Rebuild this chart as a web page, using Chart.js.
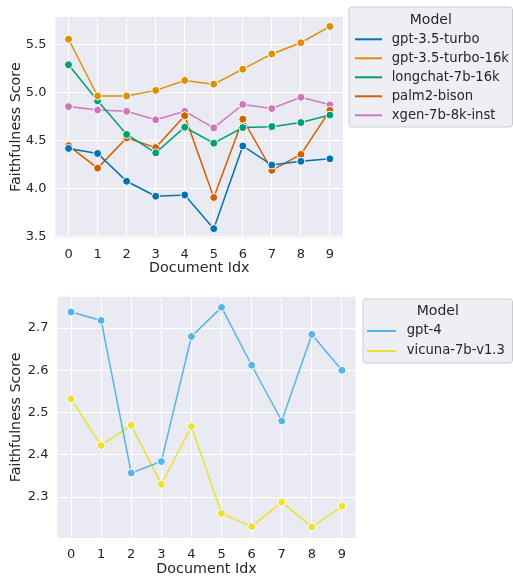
<!DOCTYPE html>
<html><head><meta charset="utf-8">
<script src="https://cdn.jsdelivr.net/npm/chart.js@4"></script>
<style>
html,body{margin:0;padding:0;background:#fff;}
#wrap{position:relative;width:513px;height:581px;overflow:hidden;}
canvas{position:absolute;left:0;}
</style></head><body>
<div id="wrap">
<canvas id="c1" width="513" height="280" style="top:0;width:513px;height:280px"></canvas>
<canvas id="c2" width="513" height="301" style="top:280px;width:513px;height:301px"></canvas>
</div>
<script>
// ---- data ----
const docIdx = [0,1,2,3,4,5,6,7,8,9];
const xTicks = [0,1,2,3,4,5,6,7,8,9];
const topYTicks = [3.5,4.0,4.5,5.0,5.5];
const bottomYTicks = [2.3,2.4,2.5,2.6,2.7];

const topModels = ['gpt-3.5-turbo','gpt-3.5-turbo-16k','longchat-7b-16k','palm2-bison','xgen-7b-8k-inst'];
const gpt35turbo   = [4.418,4.366,4.076,3.920,3.933,3.582,4.444,4.245,4.284,4.310];
const gpt35turbo16k= [5.556,4.964,4.964,5.023,5.127,5.088,5.244,5.403,5.520,5.690];
const longchat7b16k= [5.290,4.915,4.564,4.372,4.639,4.473,4.636,4.645,4.688,4.766];
const palm2bison   = [4.447,4.213,4.528,4.427,4.759,3.907,4.723,4.190,4.356,4.815];
const xgen7b8kinst = [4.854,4.818,4.805,4.717,4.805,4.632,4.876,4.834,4.951,4.873];

const bottomModels = ['gpt-4','vicuna-7b-v1.3'];
const gpt4        = [2.738,2.718,2.357,2.384,2.680,2.749,2.612,2.480,2.685,2.600];
const vicuna7bv13 = [2.532,2.422,2.470,2.330,2.467,2.261,2.230,2.288,2.229,2.278];

// ---- styles ----
const topColors = ['#0173b2','#de8f05','#029e73','#d55e00','#cc78bc'];
const bottomColors = ['#56b4e9','#ece133'];
const FONT = '"DejaVu Sans", "Liberation Sans", sans-serif';
const TXT = '#262626';

function mkDataset(label, values, color){
  return {
    label, data: docIdx.map((x,i)=>({x, y: values[i]})),
    borderColor: color, backgroundColor: color,
    pointBackgroundColor: color, pointBorderColor: '#ffffff',
    pointBorderWidth: 1, pointRadius: 4, pointHoverRadius: 4,
    borderWidth: 1.5, tension: 0, fill: false
  };
}

const bgPlugin = {
  id: 'bgPlugin',
  beforeDraw(chart){
    const {ctx, chartArea:a} = chart;
    ctx.save(); ctx.fillStyle = '#eaeaf2';
    ctx.fillRect(a.left, a.top, a.right-a.left, a.bottom-a.top);
    ctx.restore();
  }
};

const legendBox = {
  id: 'legendBox',
  afterDraw(chart, args, o){
    const ctx = chart.ctx; ctx.save();
    const r = 3;
    ctx.beginPath();
    ctx.moveTo(o.x+r, o.y); ctx.lineTo(o.x+o.w-r, o.y); ctx.arcTo(o.x+o.w, o.y, o.x+o.w, o.y+r, r);
    ctx.lineTo(o.x+o.w, o.y+o.h-r); ctx.arcTo(o.x+o.w, o.y+o.h, o.x+o.w-r, o.y+o.h, r);
    ctx.lineTo(o.x+r, o.y+o.h); ctx.arcTo(o.x, o.y+o.h, o.x, o.y+o.h-r, r);
    ctx.lineTo(o.x, o.y+r); ctx.arcTo(o.x, o.y, o.x+r, o.y, r); ctx.closePath();
    ctx.fillStyle = 'rgba(234,234,242,0.8)'; ctx.fill();
    ctx.strokeStyle = '#cccccc'; ctx.lineWidth = 1; ctx.stroke();
    ctx.fillStyle = TXT; ctx.textBaseline = 'middle';
    ctx.font = '14px ' + FONT; ctx.textAlign = 'center';
    ctx.fillText(o.title, o.x + o.w/2, o.titleY);
    ctx.font = '13.2px ' + FONT; ctx.textAlign = 'left';
    chart.data.datasets.forEach((ds,i)=>{
      const yy = o.rowY + i*o.rowGap;
      ctx.strokeStyle = ds.borderColor; ctx.lineWidth = 2;
      ctx.beginPath(); ctx.moveTo(o.lineX0, yy); ctx.lineTo(o.lineX1, yy); ctx.stroke();
      ctx.fillStyle = TXT; ctx.fillText(ds.label, o.textX, yy);
    });
    ctx.restore();
  }
};

function mkOptions(cfg){
  return {
    responsive: false, animation: false, devicePixelRatio: 1,
    layout: { padding: { left: 0, top: cfg.padTop, right: cfg.padRight, bottom: 0 } },
    plugins: { legend: { display: false }, tooltip: { enabled: false }, legendBox: cfg.legend },
    scales: {
      x: {
        type: 'linear', min: -0.45, max: 9.45,
        afterBuildTicks: s => { s.ticks = xTicks.map(v=>({value:v})); },
        afterFit: s => { s.height = cfg.xHeight; },
        grid: { color: '#ffffff', lineWidth: 1, drawTicks: false },
        border: { display: false },
        ticks: { color: TXT, font: { family: FONT, size: 13 }, padding: 9, maxRotation: 0,
                 callback: v => String(v) },
        title: { display: true, text: 'Document Idx', color: TXT,
                 font: { family: FONT, size: 14.3 }, padding: { top: 0, bottom: 3 } }
      },
      y: {
        type: 'linear', min: cfg.yMin, max: cfg.yMax,
        afterBuildTicks: s => { s.ticks = cfg.yTicks.map(v=>({value:v})); },
        afterFit: s => { s.width = cfg.yWidth; },
        grid: { color: '#ffffff', lineWidth: 1, drawTicks: false },
        border: { display: false },
        ticks: { color: TXT, font: { family: FONT, size: 13 }, padding: 9,
                 callback: v => v.toFixed(1) },
        title: { display: true, text: 'Faithfulness Score', color: TXT,
                 font: { family: FONT, size: 14.3 }, padding: { top: 7.6, bottom: 0 } }
      }
    }
  };
}

const topSeries = [gpt35turbo, gpt35turbo16k, longchat7b16k, palm2bison, xgen7b8kinst];
new Chart(document.getElementById('c1'), {
  type: 'line',
  data: { datasets: topModels.map((m,i)=>mkDataset(m, topSeries[i], topColors[i])) },
  options: mkOptions({
    padTop: 2, padRight: 170, xHeight: 42.5, yWidth: 55.5,
    yMin: 3.49, yMax: 5.79, yTicks: topYTicks,
    legend: { title: 'Model', x: 349, y: 7, w: 163.5, h: 120, titleY: 20,
              rowY: 39.3, rowGap: 19, lineX0: 355, lineX1: 382, textX: 391.7 }
  }),
  plugins: [bgPlugin, legendBox]
});

const bottomSeries = [gpt4, vicuna7bv13];
new Chart(document.getElementById('c2'), {
  type: 'line',
  data: { datasets: bottomModels.map((m,i)=>mkDataset(m, bottomSeries[i], bottomColors[i])) },
  options: mkOptions({
    padTop: 12.3, padRight: 157.5, xHeight: 43, yWidth: 57.5,
    yMin: 2.203, yMax: 2.774, yTicks: bottomYTicks,
    legend: { title: 'Model', x: 363, y: 19, w: 149.5, h: 64, titleY: 31,
              rowY: 51, rowGap: 20, lineX0: 367, lineX1: 396, textX: 406.7 }
  }),
  plugins: [bgPlugin, legendBox]
});
</script>
</body></html>
